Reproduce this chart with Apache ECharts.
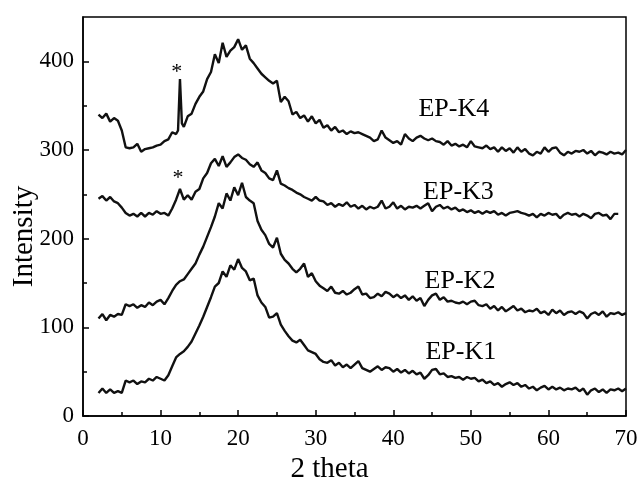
<!DOCTYPE html>
<html>
<head>
<meta charset="utf-8">
<script src="https://cdn.jsdelivr.net/npm/echarts@6/dist/echarts.min.js"></script>
<style>
html,body{margin:0;padding:0;background:#fff;}
#chart{width:640px;height:477px;}
</style>
</head>
<body>
<div id="chart"></div>
<script>
// ---- data ----
var theta = [2,2.5,3,3.5,4,4.5,5,5.5,6,6.5,7,7.5,8,8.5,9,9.5,10,10.5,11,11.5,12,12.5,13,13.5,14,14.5,15,15.5,16,16.5,17,17.5,18,18.5,19,19.5,20,20.5,21,21.5,22,22.5,23,23.5,24,24.5,25,25.5,26,26.5,27,27.5,28,28.5,29,29.5,30,30.5,31,31.5,32,32.5,33,33.5,34,34.5,35,35.5,36,36.5,37,37.5,38,38.5,39,39.5,40,40.5,41,41.5,42,42.5,43,43.5,44,44.5,45,45.5,46,46.5,47,47.5,48,48.5,49,49.5,50,50.5,51,51.5,52,52.5,53,53.5,54,54.5,55,55.5,56,56.5,57,57.5,58,58.5,59,59.5,60,60.5,61,61.5,62,62.5,63,63.5,64,64.5,65,65.5,66,66.5,67,67.5,68,68.5,69,69.5,70];

var theta4 = [2,2.5,3,3.5,4,4.5,5,5.5,6,6.5,7,7.5,8,8.5,9,9.5,10,10.5,11,11.5,12,12.25,12.5,12.75,13,13.5,14,14.5,15,15.5,16,16.5,17,17.5,18,18.5,19,19.5,20,20.5,21,21.5,22,22.5,23,23.5,24,24.5,25,25.5,26,26.5,27,27.5,28,28.5,29,29.5,30,30.5,31,31.5,32,32.5,33,33.5,34,34.5,35,35.5,36,36.5,37,37.5,38,38.5,39,39.5,40,40.5,41,41.5,42,42.5,43,43.5,44,44.5,45,45.5,46,46.5,47,47.5,48,48.5,49,49.5,50,50.5,51,51.5,52,52.5,53,53.5,54,54.5,55,55.5,56,56.5,57,57.5,58,58.5,59,59.5,60,60.5,61,61.5,62,62.5,63,63.5,64,64.5,65,65.5,66,66.5,67,67.5,68,68.5,69,69.5,70];

var epK4 = [340,336,341,332,336,333,322,303,302,303,307,298,301,302,303,305,306,310,312,320,318,322,380,330,326,338,341,352,360,366,380,388,408,398,421,405,412,416,425,413,418,403,398,392,386,382,378,375,378,354,360,355,340,343,336,339,332,338,330,334,325,328,322,326,320,322,318,321,319,320,318,316,314,310,312,322,314,311,308,310,306,318,313,310,314,316,313,311,313,310,309,306,310,305,307,304,306,303,310,304,303,302,305,301,303,298,303,299,302,297,303,298,301,296,294,298,296,303,298,302,303,297,294,298,296,299,298,300,296,299,294,298,297,295,298,296,297,295,300];

var epK3 = [245,248,243,247,242,240,235,229,226,228,225,229,225,229,227,231,228,229,226,234,244,256,244,249,244,253,256,268,274,285,290,282,293,281,286,292,295,291,289,284,281,286,277,274,268,266,277,262,260,257,255,252,250,247,245,243,247,243,242,238,240,236,239,237,241,236,238,234,237,233,236,234,236,243,234,236,241,234,237,233,236,235,237,234,237,240,231,236,238,234,236,233,235,231,233,230,232,229,231,228,231,229,231,227,229,226,229,230,231,229,228,226,228,224,228,226,229,227,228,223,227,229,227,228,225,228,226,223,228,229,226,227,222,228,228,null,null];

var epK2 = [110,115,108,114,112,115,114,126,124,126,122,125,123,128,125,129,131,126,133,141,148,152,154,160,166,172,182,191,202,213,225,240,234,251,243,258,249,263,247,243,240,220,210,204,194,190,201,183,176,172,166,162,166,172,157,161,152,147,144,141,146,139,138,141,137,139,143,146,137,138,133,134,138,135,140,138,134,137,133,136,131,135,130,133,124,131,136,138,131,134,129,130,128,127,129,126,129,130,125,124,126,121,124,119,123,118,121,124,119,121,117,119,118,121,116,118,114,120,116,119,114,117,118,115,118,116,110,115,117,114,118,112,116,115,117,114,116];

var epK1 = [26,31,26,30,26,28,26,40,38,40,36,39,38,42,40,44,42,40,46,56,66,70,73,78,84,93,102,112,123,134,146,150,163,157,170,165,177,167,163,153,155,136,128,123,111,112,116,103,96,90,85,83,86,80,74,72,70,64,61,60,63,57,60,55,58,54,58,62,54,52,50,53,56,52,55,54,50,53,49,52,48,51,47,49,42,46,52,53,47,48,44,45,43,44,41,44,42,43,39,41,37,39,35,37,33,36,38,35,37,33,35,31,33,29,32,34,30,33,30,32,29,31,30,32,28,31,24,29,31,27,30,26,30,29,31,28,31];

var seriesNames = ['EP-K1','EP-K2','EP-K3','EP-K4'];
var labelX = [48.7, 48.6, 48.4, 47.8];
var labelY = [72, 152, 252, 346];
var starX = [12.25, 12.1];
var starY = [268, 388];

var xTicks = [0,10,20,30,40,50,60,70];
var yTicks = [0,100,200,300,400];
var yMinorTicks = [50,150,250,350];

// ---- chart ----
function pairs(xs, ys){ return xs.map(function(x,i){ return [x, ys[i]]; }); }

var FONT = 'Liberation Serif, Times New Roman, serif';
var lineStyle = {color:'#111', width:2.4};

var chart = echarts.init(document.getElementById('chart'), null, {renderer:'canvas'});

var textPoints = [];
for (var i=0;i<seriesNames.length;i++){
  textPoints.push({coord:[labelX[i], labelY[i]], name:seriesNames[i],
    label:{formatter:seriesNames[i], fontSize:26}});
}
for (var j=0;j<starX.length;j++){
  textPoints.push({coord:[starX[j], starY[j]], name:'*',
    label:{formatter:'*', fontSize:22}});
}

chart.setOption({
  animation:false,
  grid:{left:83, right:14, top:17, bottom:61, show:true, borderColor:'#000', borderWidth:1.5,
        backgroundColor:'transparent', containLabel:false, outerBoundsMode:'none'},
  xAxis:{
    type:'value', min:0, max:70, interval:10,
    name:'2 theta', nameLocation:'middle', nameGap:30,
    nameTextStyle:{fontFamily:FONT, fontSize:29, color:'#000', padding:[0,50,0,0]},
    axisLine:{show:true, lineStyle:{color:'#000', width:1.5}},
    axisTick:{show:true, inside:true, length:6, lineStyle:{color:'#000', width:1.5}},
    minorTick:{show:true, splitNumber:2, length:4, lineStyle:{color:'#000', width:1.5}},
    axisLabel:{fontFamily:FONT, fontSize:23, color:'#000', margin:11, customValues:xTicks},
    splitLine:{show:false}
  },
  yAxis:[{
    type:'value', min:0, max:450,
    name:'Intensity', nameLocation:'middle', nameGap:44, nameMoveOverlap:false,
    nameTextStyle:{fontFamily:FONT, fontSize:29, color:'#000', padding:[0,40,0,0]},
    axisLine:{show:true, lineStyle:{color:'#000', width:1.5}},
    axisTick:{show:true, inside:true, length:6, lineStyle:{color:'#000', width:1.5}, customValues:yTicks},
    axisLabel:{fontFamily:FONT, fontSize:23, color:'#000', margin:9, customValues:yTicks},
    splitLine:{show:false}
  },{
    type:'value', min:0, max:450, position:'left', offset:0,
    axisLine:{show:false},
    axisTick:{show:true, inside:true, length:4, lineStyle:{color:'#000', width:1.5}, customValues:yMinorTicks},
    axisLabel:{show:false},
    splitLine:{show:false}
  }],
  series:[
    {type:'line', name:'EP-K1', data:pairs(theta, epK1), showSymbol:false, symbol:'none', lineStyle:lineStyle, silent:true,
     markPoint:{symbol:'rect', symbolSize:1, itemStyle:{color:'rgba(0,0,0,0)'},
       label:{show:true, position:'inside', color:'#000', fontFamily:FONT}, data:textPoints}},
    {type:'line', name:'EP-K2', data:pairs(theta, epK2), showSymbol:false, symbol:'none', lineStyle:lineStyle, silent:true},
    {type:'line', name:'EP-K3', data:pairs(theta, epK3), showSymbol:false, symbol:'none', lineStyle:lineStyle, silent:true, connectNulls:false},
    {type:'line', name:'EP-K4', data:pairs(theta4, epK4), showSymbol:false, symbol:'none', lineStyle:lineStyle, silent:true}
  ]
});
</script>
</body>
</html>
